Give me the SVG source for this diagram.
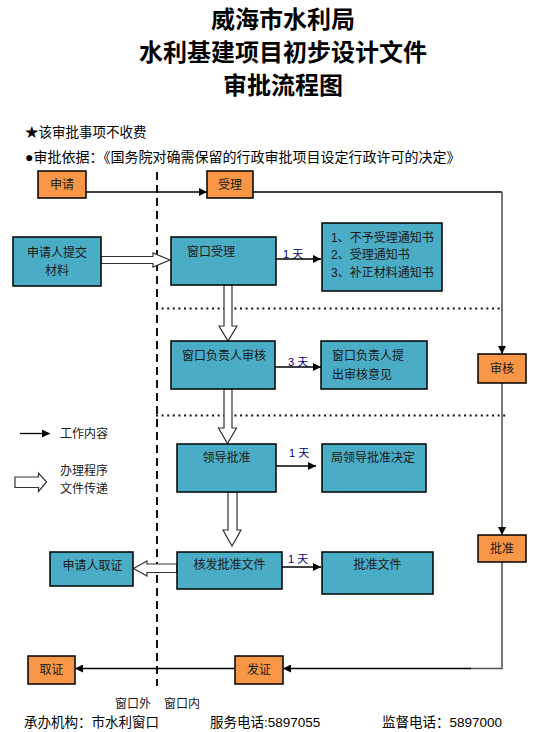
<svg xmlns="http://www.w3.org/2000/svg" width="536" height="732" viewBox="0 0 536 732">
<defs>
<style>
text{font-family:"Liberation Sans","Noto Sans CJK SC",sans-serif;fill:#1a1a1a}
.title{font-family:"Noto Sans CJK SC",sans-serif;font-weight:700;font-size:24px;fill:#000;text-anchor:middle}
.note{font-size:13.5px;fill:#000}
.t{font-size:12px}
.c{text-anchor:middle}
.blue{fill:#4BACC6;stroke:#000;stroke-width:1.5}
.orange{fill:#F79646;stroke:#000;stroke-width:1.5}
.ln{stroke:#000;stroke-width:1.3;fill:none}
.gl{stroke:#555;stroke-width:1.6;fill:none}
.hollow{fill:#fff;stroke:#333;stroke-width:1.2}
.dot{stroke:#111;stroke-width:2.2;stroke-dasharray:2,3.6;fill:none}
.day{font-size:11px;fill:#00007a}
</style>
<marker id="ah" viewBox="0 0 10 10" refX="10" refY="5" markerWidth="8" markerHeight="8" markerUnits="userSpaceOnUse" orient="auto">
<path d="M0,0 L10,5 L0,10 z" fill="#000"/>
</marker>
</defs>
<rect width="536" height="732" fill="#fff"/>

<text class="title" x="283" y="28">威海市水利局</text>
<text class="title" x="283" y="61">水利基建项目初步设计文件</text>
<text class="title" x="283" y="94">审批流程图</text>

<text class="note" x="25" y="137">★该审批事项不收费</text>
<text class="note" x="25" y="162" style="font-size:14px">●审批依据：《国务院对确需保留的行政审批项目设定行政许可的决定》</text>

<g id="divider">
<line x1="157" y1="172" x2="157" y2="686" stroke="#111" stroke-width="2" stroke-dasharray="8,5"/>
<line class="dot" x1="156" y1="308.5" x2="502" y2="308.5"/>
<line class="dot" x1="156" y1="415.5" x2="506" y2="415.5"/>
</g>

<g id="connectors">
<line class="ln" x1="86" y1="192" x2="207" y2="192" marker-end="url(#ah)"/>
<polyline class="ln" points="253,192 502,192"/>
<line class="gl" x1="502" y1="192" x2="502" y2="354" marker-end="url(#ah)"/>
<line class="gl" x1="502" y1="383" x2="502" y2="535" marker-end="url(#ah)"/>
<polyline class="gl" points="502,562 502,668.5 470,668.5"/>
<line class="ln" x1="471" y1="668.5" x2="283" y2="668.5" marker-end="url(#ah)"/>
<line class="ln" x1="235" y1="668.5" x2="75" y2="668.5" marker-end="url(#ah)"/>

<line class="ln" x1="276" y1="259" x2="321" y2="259" marker-end="url(#ah)"/>
<line class="ln" x1="275" y1="367" x2="321" y2="367" marker-end="url(#ah)"/>
<line class="ln" x1="276" y1="466" x2="316" y2="466" marker-end="url(#ah)"/>
<line class="ln" x1="282" y1="567" x2="321" y2="567" marker-end="url(#ah)"/>

<path class="hollow" d="M101,256.5 L153,256.5 L153,253 L170,260 L153,267 L153,263.5 L101,263.5 z"/>
<path class="hollow" d="M224,285 L232,285 L232,326 L237,326 L228,341 L219,326 L224,326 z"/>
<path class="hollow" d="M224,389 L232,389 L232,428 L236.5,428 L227.5,443.5 L218.5,428 L224,428 z"/>
<path class="hollow" d="M228,492 L237,492 L237,530 L241,530 L232,546 L223,530 L228,530 z"/>
<path class="hollow" d="M177,564 L147,564 L147,561 L133.5,568.5 L147,576 L147,572.5 L177,572.5 z"/>
</g>

<g id="n-shenqing"><rect class="orange" x="38" y="171" width="48" height="27"/><text class="t c" x="62" y="189">申请</text></g>
<g id="n-shouli"><rect class="orange" x="207" y="171" width="46" height="27"/><text class="t c" x="230" y="189">受理</text></g>
<g id="n-shenhe"><rect class="orange" x="478" y="354" width="48" height="29"/><text class="t c" x="502" y="373">审核</text></g>
<g id="n-pizhun"><rect class="orange" x="478" y="535" width="48" height="27"/><text class="t c" x="502" y="553">批准</text></g>
<g id="n-fazheng"><rect class="orange" x="235" y="656" width="48" height="28"/><text class="t c" x="259" y="674">发证</text></g>
<g id="n-quzheng"><rect class="orange" x="28" y="656" width="47" height="28"/><text class="t c" x="51.5" y="674">取证</text></g>

<g id="n-tijiao"><rect class="blue" x="13" y="237" width="88" height="49"/><text class="t c" x="57" y="257">申请人提交</text><text class="t c" x="57" y="275">材料</text></g>
<g id="n-chuangkou"><rect class="blue" x="171" y="237" width="105" height="48"/><text class="t" x="187" y="256">窗口受理</text></g>
<g id="n-tongzhi"><rect class="blue" x="322" y="223" width="120" height="68"/><text class="t" x="331" y="241.5">1、不予受理通知书</text><text class="t" x="331" y="259">2、受理通知书</text><text class="t" x="331" y="277">3、补正材料通知书</text></g>
<text class="day" x="283" y="258">1 天</text>

<g id="n-fuzeren"><rect class="blue" x="171" y="341" width="104" height="48"/><text class="t" x="182" y="360">窗口负责人审核</text></g>
<g id="n-yijian"><rect class="blue" x="321" y="341" width="106" height="48"/><text class="t" x="332" y="360">窗口负责人提</text><text class="t" x="332" y="378.5">出审核意见</text></g>
<text class="day" x="288" y="366">3 天</text>

<g id="n-lingdao"><rect class="blue" x="177" y="444" width="99" height="48"/><text class="t c" x="226.5" y="462">领导批准</text></g>
<g id="n-juedin"><rect class="blue" x="322" y="444" width="104" height="48"/><text class="t" x="331" y="462">局领导批准决定</text></g>
<text class="day" x="289" y="457">1  天</text>

<g id="n-hefa"><rect class="blue" x="177" y="552" width="105" height="37"/><text class="t c" x="229.5" y="568.5">核发批准文件</text></g>
<g id="n-wenjian"><rect class="blue" x="322" y="552" width="111" height="42"/><text class="t c" x="377.5" y="568.5">批准文件</text></g>
<text class="day" x="288" y="562.5">1 天</text>

<g id="n-quzheng2"><rect class="blue" x="50" y="552" width="83" height="34"/><text class="t c" x="92.5" y="570">申请人取证</text></g>

<g id="legend">
<line class="ln" x1="20" y1="433.5" x2="50" y2="433.5" marker-end="url(#ah)"/>
<text class="t" x="60" y="437.5">工作内容</text>
<path class="hollow" d="M15,477 L38.5,477 L38.5,473 L46.5,482 L38.5,491.5 L38.5,487.5 L15,487.5 z"/>
<text class="t" x="60" y="475">办理程序</text>
<text class="t" x="60" y="493">文件传递</text>
</g>

<text class="t" x="115" y="708">窗口外</text>
<text class="t" x="164" y="708">窗口内</text>
<text class="note" x="24" y="727">承办机构：市水利窗口</text>
<text class="note" x="210" y="727">服务电话:5897055</text>
<text class="note" x="382" y="727">监督电话：5897000</text>
</svg>
